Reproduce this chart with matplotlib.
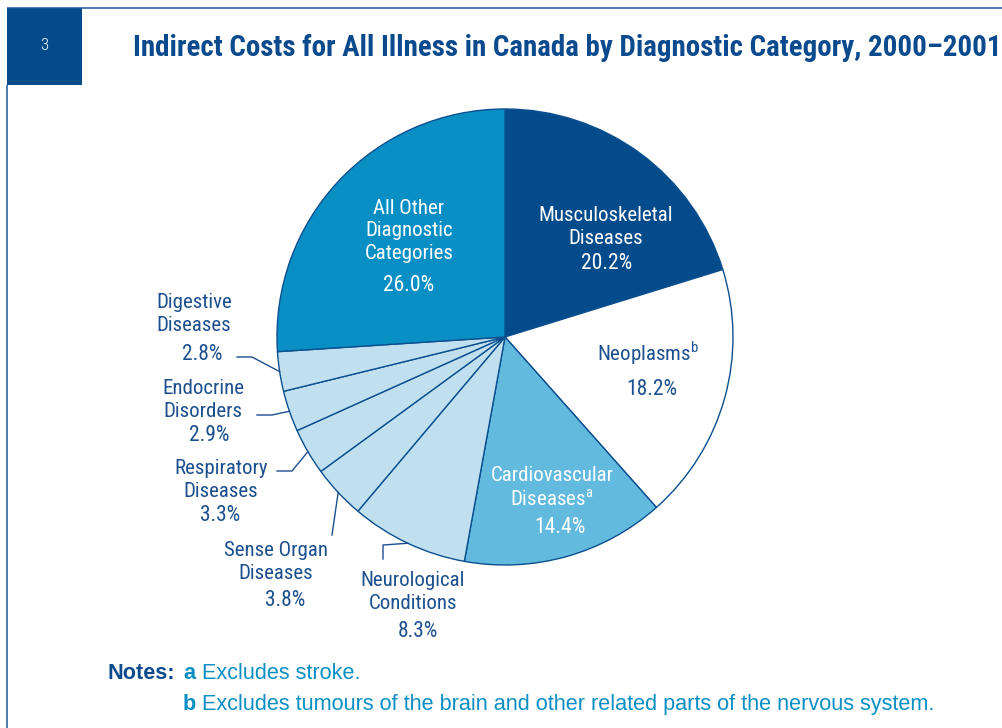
import matplotlib
matplotlib.use("Agg")
import matplotlib.pyplot as plt
import numpy as np

# ---------------- data ----------------
categories = ["Musculoskeletal Diseases", "Neoplasms", "Cardiovascular Diseases",
              "Neurological Conditions", "Sense Organ Diseases", "Respiratory Diseases",
              "Endocrine Disorders", "Digestive Diseases", "All Other Diagnostic Categories"]
shares = [20.2, 18.2, 14.4, 8.3, 3.8, 3.3, 2.9, 2.8, 26.0]
label_names = ["Musculoskeletal\nDiseases", "Neoplasms$^{\\mathrm{b}}$",
               "Cardiovascular\nDiseases$^{\\mathrm{a}}$", "Neurological\nConditions",
               "Sense Organ\nDiseases", "Respiratory\nDiseases", "Endocrine\nDisorders",
               "Digestive\nDiseases", "All Other\nDiagnostic\nCategories"]
title = "Indirect Costs for All Illness in Canada by Diagnostic Category, 2000\u20132001"
figure_number = "3"
note_a = "Excludes stroke."
note_b = "Excludes tumours of the brain and other related parts of the nervous system."

# ---------------- style ----------------
W, H = 1003, 728
COND = ["Roboto Condensed", "Archivo Narrow", "DejaVu Sans"]
REG = ["Liberation Sans", "DejaVu Sans"]
plt.rcParams["mathtext.fontset"] = "custom"
plt.rcParams["mathtext.rm"] = "Roboto Condensed"

DARK = "#034b8b"
TXT = "#1c4f8e"
CYAN = "#0a8fc5"
colors = [DARK, "white", "#63badf", "#c0e0f0", "#c0e0f0", "#c0e0f0",
          "#c0e0f0", "#c0e0f0", CYAN]
text_colors = ["white", TXT, "white", TXT, TXT, TXT, TXT, TXT, "white"]

def Y(py):
    return H - py

fig = plt.figure(figsize=(W / 100, H / 100), dpi=100)
ax = fig.add_axes([0, 0, 1, 1])

cx, cy, R = 505, 337, 228
wedges, _ = ax.pie(shares, colors=colors, startangle=90, counterclock=False,
                   center=(cx, Y(cy)), radius=R,
                   wedgeprops=dict(edgecolor="#0b4f8f", linewidth=1.0))
ax.set_xlim(0, W)
ax.set_ylim(0, H)
ax.set_aspect("equal")
ax.axis("off")

# header frame
ax.plot([7, W], [Y(7.5), Y(7.5)], color="#1a5a9a", lw=1.1, solid_capstyle="butt")
ax.plot([7.5, 7.5], [Y(85), 0], color="#1a5a9a", lw=1.1, solid_capstyle="butt")
ax.add_patch(plt.Rectangle((7, Y(85)), 75, 77, color=DARK, lw=0))
ax.text(44, Y(45), figure_number, color="white", fontsize=12, ha="center", va="center",
        family=COND, fontweight="light")
ax.text(133, Y(56), title, color="#0b4a8c", fontsize=20.9, fontweight="bold",
        ha="left", va="baseline", family=COND)

# label layout: (x centre, first-line baseline) for names and percentages
LINE = 24
name_pos = [(606, 220), (648, 361), (552, 482), (413, 585), (276, 555),
            (221, 473), (203, 393), (194, 307), (409, 211)]
pct_pos = [(607, 269), (652, 395), (560, 533), (418, 637), (285, 606),
           (220, 521), (209, 441), (202, 360), (409, 291)]

for i, (name, v) in enumerate(zip(label_names, shares)):
    nx, ny = name_pos[i]
    px, py = pct_pos[i]
    nlines = name.count("\n") + 1
    ax.text(nx, Y(ny + (nlines - 1) * LINE), name, color=text_colors[i], fontsize=15,
            ha="center", va="baseline", family=COND, linespacing=1.24)
    ax.text(px, Y(py), f"{v:.1f}%", color=text_colors[i], fontsize=15.5, ha="center",
            va="baseline", family=COND)

# leader lines: from wedge mid-angle on rim to elbow points
cum = np.concatenate([[0], np.cumsum(shares)]) / sum(shares)
def rim(i):
    a = np.deg2rad(90 - 360 * (cum[i] + cum[i + 1]) / 2)
    return cx + R * np.cos(a), Y(cy) + R * np.sin(a)

elbows = {7: [(252, 357), (237, 357)],
          6: [(272, 415), (257, 415)],
          5: [(292, 471), (277, 471)],
          4: [(332, 535)],
          3: [(383, 545), (383, 559)]}
for i, pts in elbows.items():
    x0, y0 = rim(i)
    xs = [x0] + [p[0] for p in pts]
    ys = [y0] + [Y(p[1]) for p in pts]
    ax.plot(xs, ys, color=TXT, lw=1.0)

# notes
NFS = 15.6
ax.text(108, Y(679), "Notes:", color="#0b4a8c", fontsize=NFS, fontweight="bold",
        ha="left", va="baseline", family=REG)
ax.text(183, Y(679), "a", color=CYAN, fontsize=NFS, fontweight="bold",
        ha="left", va="baseline", family=REG)
ax.text(202, Y(679), note_a, color=CYAN, fontsize=NFS, ha="left", va="baseline", family=REG)
ax.text(183, Y(710), "b", color=CYAN, fontsize=NFS, fontweight="bold",
        ha="left", va="baseline", family=REG)
ax.text(202, Y(710), note_b, color=CYAN, fontsize=NFS, ha="left", va="baseline", family=REG)

fig.savefig("out.png", dpi=100)
